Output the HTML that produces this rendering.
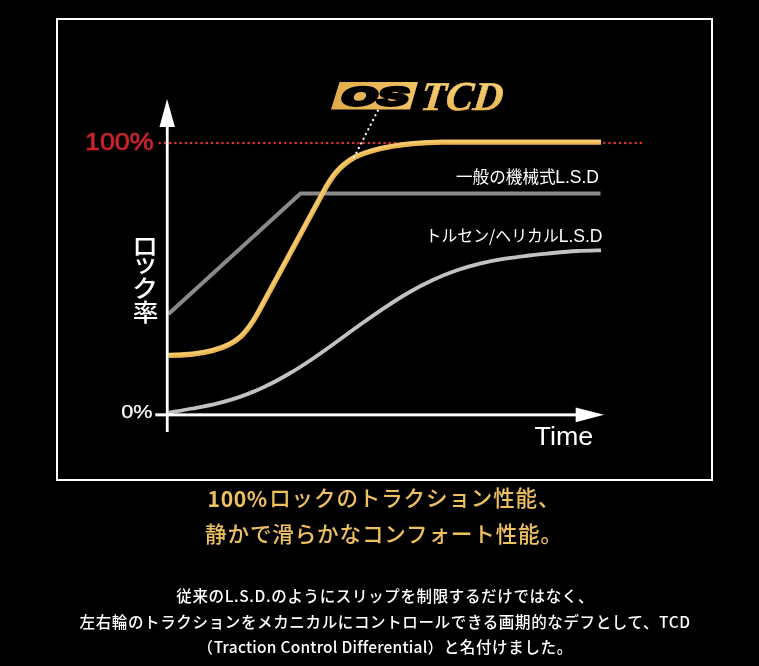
<!DOCTYPE html>
<html lang="ja">
<head>
<meta charset="utf-8">
<title>OS TCD</title>
<style>
html,body{margin:0;padding:0;background:#000;}
body{width:759px;height:666px;overflow:hidden;position:relative;font-family:"Liberation Sans","Noto Sans CJK JP",sans-serif;color:#fff;}
#chart{position:absolute;left:0;top:0;display:block;}
#copy{position:absolute;left:55.5px;width:657px;top:478.8px;text-align:center;}
#copy h2{margin:0;font-size:21.5px;letter-spacing:0.9px;line-height:36px;font-weight:500;color:#efc060;font-family:"Noto Sans CJK JP","Liberation Sans",sans-serif;}
#copy h2 b{position:relative;top:0.4px;font-weight:700;font-size:21.2px;padding-right:1.5px;letter-spacing:0.55px;}
#copy p{margin:0;font-weight:500;font-size:15.5px;line-height:25.2px;letter-spacing:0.64px;position:relative;left:1.2px;font-family:"Noto Sans CJK JP","Liberation Sans",sans-serif;}
</style>
</head>
<body>
<svg id="chart" width="759" height="482" viewBox="0 0 759 482">
  <defs>
    <linearGradient id="gold" x1="0" y1="0" x2="0" y2="1">
      <stop offset="0.2" stop-color="#f6cf75"/>
      <stop offset="0.85" stop-color="#eab754"/>
    </linearGradient>
    <linearGradient id="lg" x1="0" y1="0" x2="1" y2="0">
      <stop offset="0" stop-color="#e0ac4b"/>
      <stop offset="1" stop-color="#f0c364"/>
    </linearGradient>
  </defs>
  <rect x="57" y="19" width="655" height="461" fill="#000" stroke="#fff" stroke-width="2"/>

  <!-- 100% dotted line -->
  <line x1="159.7" y1="142.9" x2="641" y2="142.9" stroke="#e3352d" stroke-width="2.5" stroke-linecap="round" stroke-dasharray="0.01 5.2204"/>

  <!-- mechanical LSD -->
  <polyline points="168.5,314 300.5,193.5 600.5,193.5" fill="none" stroke="#8a8a8a" stroke-width="4" stroke-linejoin="miter"/>

  <!-- torsen -->
  <path d="M168.5,412.6 C172.5,411.9 184.5,410.0 192.5,408.5 C200.5,407.0 208.6,405.6 216.6,403.6 C224.6,401.6 232.6,399.4 240.6,396.6 C248.6,393.8 256.6,390.6 264.6,386.8 C272.6,383.0 280.6,378.7 288.6,374.0 C296.7,369.3 304.7,364.1 312.7,358.7 C320.7,353.3 328.7,347.5 336.7,341.8 C344.7,336.0 352.7,330.0 360.7,324.3 C368.8,318.6 376.8,312.9 384.8,307.6 C392.8,302.3 400.8,297.1 408.8,292.5 C416.8,287.9 424.8,283.7 432.8,280.0 C440.8,276.3 448.9,273.1 456.9,270.3 C464.9,267.6 472.9,265.3 480.9,263.4 C488.9,261.5 496.9,260.0 504.9,258.7 C512.9,257.4 520.9,256.5 529.0,255.5 C537.0,254.5 545.0,253.8 553.0,253.0 C561.0,252.2 569.0,251.4 577.0,251.0 C585.0,250.5 597.0,250.4 601.0,250.3" fill="none" stroke="#c2c2c2" stroke-width="3.8"/>

  <!-- OS TCD curve -->
  <path d="M168.5,355.3 C200,355.3 226,350.3 241.1,336.3 C249.1,328.3 253.1,321.3 257.2,314.2 L323.2,192.2 C331.2,177.2 338.8,166.2 354.8,157.1 C375,148 400,142.8 442,142.2 L601,142.2" fill="none" stroke="#ebb750" stroke-width="5.3"/>
  <path d="M168.5,355.3 C200,355.3 226,350.3 241.1,336.3 C249.1,328.3 253.1,321.3 257.2,314.2 L323.2,192.2 C331.2,177.2 338.8,166.2 354.8,157.1 C375,148 400,142.8 442,142.2 L601,142.2" fill="none" stroke="#f4cb72" stroke-width="2.2" transform="translate(0,-1.1)"/>

  <!-- leader -->
  <line x1="377.85" y1="110.6" x2="354.0" y2="157.5" stroke="#fff" stroke-width="2.3" stroke-linecap="round" stroke-dasharray="0.01 5.24"/>

  <!-- axes -->
  <rect x="165.85" y="125" width="2.8" height="307" fill="#fff"/>
  <polygon points="167.05,99.1 174.9,127 159.5,127" fill="#fff"/>
  <rect x="155.3" y="413.35" width="422" height="3" fill="#fff"/>
  <polygon points="604,414.85 575.7,407.4 575.7,422.3" fill="#fff"/>

  <!-- labels -->
  <text x="85" y="149.9" font-family="'Liberation Sans',sans-serif" font-size="24.6" fill="#cc232b" stroke="#cc232b" stroke-width="0.7" textLength="68.6" lengthAdjust="spacingAndGlyphs">100%</text>
  <text x="121.2" y="418.2" font-family="'Liberation Sans',sans-serif" font-size="19.2" fill="#fff" stroke="#fff" stroke-width="0.25" textLength="31.2" lengthAdjust="spacingAndGlyphs">0%</text>
  <text x="534.6" y="444.9" font-family="'Liberation Sans',sans-serif" font-size="26" fill="#fff" textLength="58.6" lengthAdjust="spacingAndGlyphs">Time</text>
  <text font-family="'Noto Sans CJK JP','Liberation Sans',sans-serif" font-size="24" font-weight="500" fill="#fff" text-anchor="middle" transform="translate(145.2,0) scale(1.07,1)"><tspan x="0" y="254.6">ロ</tspan><tspan x="0" y="272">ッ</tspan><tspan x="0" y="297.3">ク</tspan><tspan x="0.4" y="321">率</tspan></text>
  <text x="456" y="183.2" font-family="'Noto Sans CJK JP','Liberation Sans',sans-serif" font-size="16.6" fill="#fff" textLength="99.6" lengthAdjust="spacingAndGlyphs">一般の機械式</text>
  <text x="555.2" y="183.4" font-family="'Liberation Sans',sans-serif" font-size="17.6" fill="#fff" textLength="43.8" lengthAdjust="spacingAndGlyphs">L.S.D</text>
  <text x="425.6" y="241.6" font-family="'Noto Sans CJK JP','Liberation Sans',sans-serif" font-size="16.6" fill="#fff" textLength="133.2" lengthAdjust="spacingAndGlyphs">トルセン/ヘリカル</text>
  <text x="558.7" y="241.8" font-family="'Liberation Sans',sans-serif" font-size="17.6" fill="#fff" textLength="43.8" lengthAdjust="spacingAndGlyphs">L.S.D</text>

  <!-- logo -->
  <polygon points="339.5,82 418,82 410,109.5 331,109.5" fill="url(#lg)"/>
  <text transform="translate(340,105.1) skewX(-17) scale(1.77,1)" font-family="'Liberation Sans',sans-serif" font-size="25.2" font-weight="700" fill="#000" stroke="#000" stroke-width="3.3" stroke-linejoin="miter" letter-spacing="0.7">OS</text>
  <text transform="translate(419.5,110) skewX(-7)" x="0" y="0" font-family="'Liberation Serif',serif" font-size="41" font-weight="700" font-style="italic" fill="url(#gold)" stroke="#efc063" stroke-width="0.5" textLength="82.2" lengthAdjust="spacingAndGlyphs">TCD</text>
</svg>

<div id="copy">
  <h2><span style="position:relative;top:0.5px"><b>100%</b>ロックのトラクション性能、</span><br>静かで滑らかなコンフォート性能。</h2>
  <p style="margin-top:32.6px">従来のL.S.D.のようにスリップを制限するだけではなく、<br>左右輪のトラクションをメカニカルにコントロールできる画期的なデフとして、TCD<br>（<span style="letter-spacing:0.23px">Traction Control Differential</span>）と名付けました。</p>
</div>
</body>
</html>
